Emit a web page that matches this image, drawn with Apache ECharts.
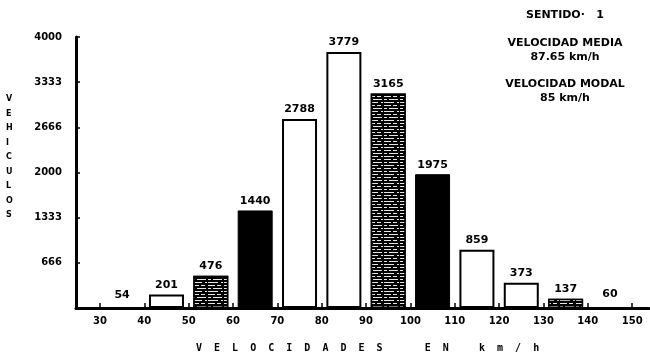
<!DOCTYPE html>
<html><head><meta charset="utf-8">
<script src="https://cdn.jsdelivr.net/npm/echarts@6/dist/echarts.min.js"></script>
<style>html,body{margin:0;padding:0;background:#fff}#c{width:650px;height:360px}</style>
</head><body><div id="c"></div>
<script>
// ---- data ----
const binCenters = [35, 45, 55, 65, 75, 85, 95, 105, 115, 125, 135, 145];
const counts = [54, 201, 476, 1440, 2788, 3779, 3165, 1975, 859, 373, 137, 60];
const xTicks = [30, 40, 50, 60, 70, 80, 90, 100, 110, 120, 130, 140, 150];
const yTicks = [666, 1333, 2000, 2666, 3333, 4000];
const yTitle = 'VEHICULOS';
const xTitle = 'V  E  L  O  C  I  D  A  D  E  S       E  N     k  m  /  h';
const infoLines = ['SENTIDO·   1', 'VELOCIDAD MEDIA', '87.65 km/h', 'VELOCIDAD MODAL', '85 km/h'];

// ---- styles (not data) ----
const fills = ['none','white','hatch','black','white','white','hatch','black','white','white','hatch','none'];
const FONT = 'DejaVu Sans';
const hatchDecal = {
  symbol: 'rect', symbolSize: 1, color: 'rgba(255,255,255,0.9)',
  dashArrayX: [[7, 2, 4, 3], [3, 2, 9, 2], [10, 3, 2, 1]], dashArrayY: [1, 2], rotation: 0
};
function styleFor(k) {
  if (k === 'none') return { color: 'rgba(0,0,0,0)', borderWidth: 0 };
  if (k === 'white') return { color: '#fff', borderColor: '#000', borderWidth: 2 };
  if (k === 'black') return { color: '#000', borderColor: '#000', borderWidth: 1 };
  return { color: '#000', borderColor: '#000', borderWidth: 1.5, decal: hatchDecal };
}

const chart = echarts.init(document.getElementById('c'), null, { renderer: 'canvas' });
const barData = binCenters.map((x, i) => ({ value: [x, counts[i]], itemStyle: styleFor(fills[i]) }));
const infoY = [15, 43, 57, 84, 98];

chart.setOption({
  animation: false,
  backgroundColor: '#fff',
  grid: { left: 76, right: 1, top: 37, bottom: 52, containLabel: false },
  xAxis: {
    type: 'value', min: 24.6, max: 153.8,
    axisLine: { show: true, onZero: false, lineStyle: { color: '#000', width: 3 } },
    axisTick: { show: true, inside: true, length: 5, customValues: xTicks, lineStyle: { color: '#000', width: 1.5 } },
    axisLabel: { customValues: xTicks, color: '#000', fontFamily: FONT, fontWeight: 'bold', fontSize: 10, margin: 8,
      formatter: v => String(v) },
    splitLine: { show: false }
  },
  yAxis: {
    type: 'value', min: 0, max: 4000,
    axisLine: { show: true, lineStyle: { color: '#000', width: 3 } },
    axisTick: { show: true, inside: true, length: 4, customValues: yTicks, lineStyle: { color: '#000', width: 1.5 } },
    axisLabel: { customValues: yTicks, color: '#000', fontFamily: FONT, fontWeight: 'bold', fontSize: 10, margin: 14,
      formatter: v => String(v) },
    splitLine: { show: false }
  },
  series: [{
    type: 'bar', barWidth: 35, data: barData,
    label: { show: true, position: 'top', distance: 4, color: '#000', fontFamily: FONT, fontWeight: 'bold', fontSize: 11,
      formatter: p => String(p.value[1]) }
  }],
  graphic: [
    { type: 'text', left: 6, top: 92, style: { text: yTitle.split('').join('\n'), fill: '#000', font: 'bold 8px ' + FONT, lineHeight: 14.5, align: 'center' } },
    { type: 'text', left: 196, top: 343, style: { text: xTitle, fill: '#000', font: 'bold 10px "DejaVu Sans Mono"' } }
  ].concat(infoLines.map((t, i) => ({
    type: 'text', x: 565, y: infoY[i],
    style: { text: t, fill: '#000', font: 'bold 11px ' + FONT, align: 'center', verticalAlign: 'middle' }
  })))
});
</script></body></html>
